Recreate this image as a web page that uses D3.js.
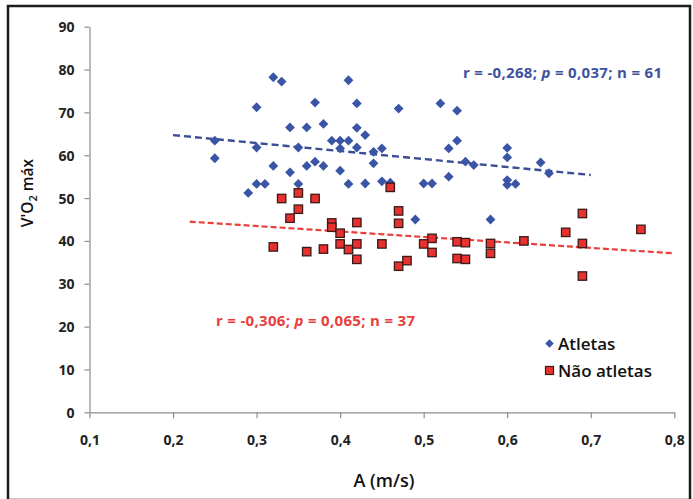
<!DOCTYPE html>
<html><head><meta charset="utf-8">
<script src="https://cdn.jsdelivr.net/npm/d3@7"></script>
<style>body{margin:0;background:#fff}svg{display:block}</style>
</head><body><svg id="c" width="693" height="499"></svg>
<script>
const atletas = [
[0.25,63.4],[0.25,59.3],[0.29,51.2],[0.30,71.2],[0.30,61.8],[0.30,53.3],[0.31,53.3],
[0.32,78.2],[0.32,57.5],[0.33,77.2],[0.34,66.5],[0.34,56.0],[0.35,61.8],[0.35,53.3],
[0.36,66.5],[0.36,57.5],[0.37,72.3],[0.37,58.5],[0.38,67.3],[0.38,57.5],[0.39,63.4],
[0.40,63.4],[0.40,61.6],[0.40,56.4],[0.41,77.5],[0.41,63.4],[0.41,53.3],[0.42,72.1],
[0.42,66.4],[0.42,61.8],[0.43,64.7],[0.43,53.4],[0.44,60.8],[0.44,58.1],[0.45,61.6],
[0.45,53.9],[0.46,53.6],[0.47,70.9],[0.49,45.0],[0.50,53.4],[0.51,53.4],[0.52,72.1],
[0.53,61.6],[0.53,55.0],[0.54,70.4],[0.54,63.4],[0.55,58.5],[0.56,57.7],[0.58,45.0],
[0.60,61.7],[0.60,59.5],[0.60,54.2],[0.60,53.1],[0.61,53.3],[0.64,58.3],[0.65,55.8]
];
const naoAtletas = [
[0.33,49.9],[0.35,51.2],[0.37,49.9],[0.35,47.4],[0.34,45.3],[0.32,38.6],[0.36,37.5],
[0.38,38.1],[0.39,44.2],[0.39,43.2],[0.40,41.8],[0.40,39.3],[0.41,38.0],[0.46,52.5],
[0.42,44.3],[0.42,39.3],[0.42,35.7],[0.45,39.3],[0.47,47.0],[0.47,44.1],[0.47,34.1],
[0.48,35.4],[0.50,39.3],[0.51,40.6],[0.51,37.3],[0.54,39.8],[0.55,39.6],[0.54,35.9],
[0.55,35.7],[0.58,39.4],[0.58,37.1],[0.62,40.0],[0.67,42.0],[0.69,46.4],[0.69,39.4],
[0.69,31.8],[0.76,42.7]
];
const trendAtletas = [[0.2,64.7],[0.7,55.4]];
const trendNao = [[0.22,44.5],[0.80,37.1]];
const xTicks = [0.1,0.2,0.3,0.4,0.5,0.6,0.7,0.8];
const yTicks = [0,10,20,30,40,50,60,70,80,90];
const labels = {x:"A (m/s)", y:"V'O", ySub:"2", yTail:" máx",
  blue:["r = -0,268; ","p"," = 0,037; n = 61"], red:["r = -0,306; ","p"," = 0,065; n = 37"],
  legend:["Atletas","Não atletas"]};

const svg = d3.select("#c");
const F = "'Open Sans', 'DejaVu Sans', sans-serif";
const blue = "#3b55a6", red = "#e8302e";
svg.append("rect").attr("x",8).attr("y",6).attr("width",682).attr("height",494)
  .attr("fill","none").attr("stroke","#1c1c1c").attr("stroke-width",2.5);

const x = d3.scaleLinear().domain([0.1,0.8]).range([89.5,674.3]);
const y = d3.scaleLinear().domain([0,90]).range([412.3,26.7]);
const fmt = d => d3.format(".1f")(d).replace(".",",");

const gx = svg.append("g").attr("transform","translate(0,412.3)")
  .call(d3.axisBottom(x).tickValues(xTicks).tickFormat(fmt).tickSize(6).tickSizeOuter(0).tickPadding(17));
const gy = svg.append("g").attr("transform","translate(89.5,0)")
  .call(d3.axisLeft(y).tickValues(yTicks).tickSize(5).tickSizeOuter(0).tickPadding(10));
[gx,gy].forEach(g=>{
  g.select(".domain").attr("stroke","#8c8c8c").attr("stroke-width",1.2);
  g.selectAll(".tick line").attr("stroke","#8c8c8c").attr("stroke-width",1.2);
  g.selectAll("text").attr("font-family",F).attr("font-size",14).attr("font-weight",700).attr("fill","#222");
});
gy.selectAll("text").attr("dy","0.36em");

const line = d3.line().x(d=>x(d[0])).y(d=>y(d[1]));
svg.append("path").attr("d",line(trendNao)).attr("fill","none").attr("stroke","#ea3f3a")
  .attr("stroke-width",2.2).attr("stroke-dasharray","6,3");
svg.append("path").attr("d",line(trendAtletas)).attr("fill","none").attr("stroke","#3a4d95")
  .attr("stroke-width",2.4).attr("stroke-dasharray","7,4");

const diamond = d3.symbol().type(d3.symbolSquare).size(48)();
svg.append("g").selectAll("path").data(atletas).join("path")
  .attr("d",diamond).attr("fill",blue)
  .attr("transform",d=>`translate(${x(d[0])},${y(d[1])}) rotate(45)`);
svg.append("g").selectAll("rect").data(naoAtletas).join("rect")
  .attr("x",d=>x(d[0])-4.2).attr("y",d=>y(d[1])-4.2).attr("width",8.4).attr("height",8.4)
  .attr("fill",red).attr("stroke","#3a1a18").attr("stroke-width",1.3);

function stat(t, xp, yp, col){
  const tx = svg.append("text").attr("x",xp).attr("y",yp).attr("font-family",F)
    .attr("font-size",15).attr("font-weight",700).attr("fill",col).attr("textLength",199);
  tx.append("tspan").text(t[0]);
  tx.append("tspan").attr("font-style","italic").text(t[1]);
  tx.append("tspan").text(t[2]);
}
stat(labels.blue, 463, 78, "#3f52a0");
stat(labels.red, 216, 326, "#e8403c");

// legend
svg.append("path").attr("d",d3.symbol().type(d3.symbolSquare).size(36)())
  .attr("transform","translate(549.5,343.5) rotate(45)").attr("fill",blue);
svg.append("rect").attr("x",545.5).attr("y",366.5).attr("width",8).attr("height",8)
  .attr("fill",red).attr("stroke","#3a1a18").attr("stroke-width",1.2);
svg.append("text").attr("x",558).attr("y",349.5).attr("font-family",F).attr("font-size",17)
  .attr("font-weight",600).attr("fill","#111").text(labels.legend[0]);
svg.append("text").attr("x",558).attr("y",377).attr("font-family",F).attr("font-size",17)
  .attr("font-weight",600).attr("fill","#111").text(labels.legend[1]);

// axis titles
svg.append("text").attr("x",384).attr("y",487).attr("text-anchor","middle").attr("font-family",F)
  .attr("font-size",18).attr("font-weight",600).attr("fill","#111").text(labels.x);
const yt = svg.append("text").attr("transform","translate(33,193) rotate(-90)").attr("text-anchor","middle")
  .attr("font-family",F).attr("font-size",15.5).attr("font-weight",600).attr("fill","#111");
yt.append("tspan").text(labels.y);
yt.append("tspan").attr("font-size",11).attr("dy",4).text(labels.ySub);
yt.append("tspan").attr("dy",-4).text(labels.yTail);
</script></body></html>
